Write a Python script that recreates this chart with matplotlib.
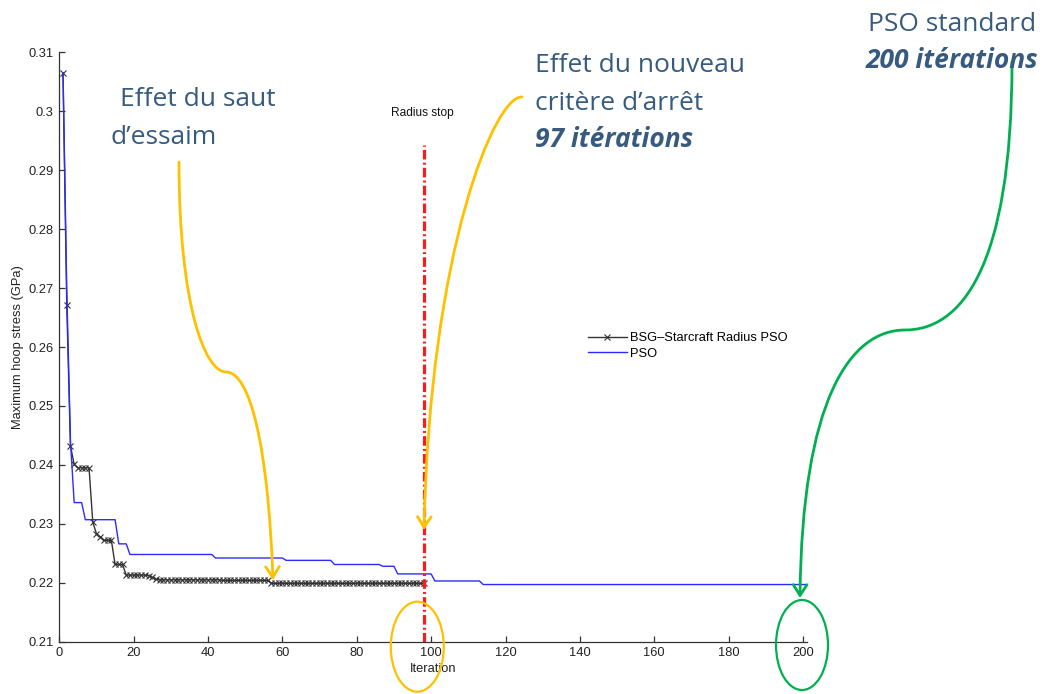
import numpy as np
import matplotlib
matplotlib.use("Agg")
import matplotlib.pyplot as plt
from matplotlib.path import Path
from matplotlib.patches import FancyArrowPatch, Ellipse
from matplotlib.transforms import Affine2D

# ---------------- data ----------------
# PSO (blue) : step values and how many iterations each lasts (iterations 1..201)
pso_values = [0.3065, 0.2700, 0.2440, 0.2336, 0.2307, 0.2266, 0.2248, 0.2242,
              0.2238, 0.2231, 0.2228, 0.2215, 0.2203, 0.2197]
pso_runs = [1, 1, 1, 3, 9, 3, 23, 19, 13, 13, 4, 10, 13, 88]

# BSG-Starcraft Radius PSO (black) : iterations 1..98
bsg_values = [0.3065, 0.2672, 0.2432, 0.2401, 0.2395, 0.2303, 0.2283, 0.2278,
              0.2272, 0.2231, 0.2213, 0.2212, 0.2209, 0.2206, 0.2205, 0.2204, 0.2199]
bsg_runs = [1, 1, 1, 1, 4, 1, 1, 1, 3, 3, 6, 1, 1, 1, 17, 13, 42]

stop_iteration = 98
stop_top = 0.2943

x_ticks = [0, 20, 40, 60, 80, 100, 120, 140, 160, 180, 200]
y_ticks = [0.21, 0.22, 0.23, 0.24, 0.25, 0.26, 0.27, 0.28, 0.29, 0.30, 0.31]
y_tick_labels = ["0.21", "0.22", "0.23", "0.24", "0.25", "0.26", "0.27",
                 "0.28", "0.29", "0.3", "0.31"]

legend_labels = ["BSG\u2013Starcraft Radius PSO", "PSO"]

pso_y = np.repeat(pso_values, pso_runs)
pso_x = np.arange(1, len(pso_y) + 1)
bsg_y = np.repeat(bsg_values, bsg_runs)
bsg_x = np.arange(1, len(bsg_y) + 1)

# ---------------- figure ----------------
W, H = 1049, 694
fig = plt.figure(figsize=(W / 100, H / 100), dpi=100)
fig.patch.set_facecolor("white")

ax_left, ax_right, ax_top, ax_bottom = 59.3, 806.7, 52.3, 641.7
ax = fig.add_axes([ax_left / W, 1 - ax_bottom / H,
                   (ax_right - ax_left) / W, (ax_bottom - ax_top) / H])

tick_font = dict(family="Liberation Sans", size=9.3)

ax.plot(bsg_x, bsg_y, color="#333333", lw=1.0, marker="x", ms=4.4, mew=0.8,
        label=legend_labels[0], zorder=2)
ax.plot(pso_x, pso_y, color="#2b2bff", lw=1.0, label=legend_labels[1], zorder=3)

ax.plot([stop_iteration, stop_iteration], [0.21, stop_top], color="#ff1a1a",
        lw=2.3, dashes=(3.0, 1.0, 0.6, 1.0), zorder=4)
ax.text(stop_iteration - 0.3, 0.2997, "Radius stop", ha="center", va="center",
        fontdict=dict(family="Liberation Sans", size=8.6), color="#111111")

ax.set_xlim(0, 201)
ax.set_ylim(0.21, 0.31)
ax.set_xticks(x_ticks)
ax.set_yticks(y_ticks)
ax.set_yticklabels(y_tick_labels)
for lab in ax.get_xticklabels() + ax.get_yticklabels():
    lab.set_family("Liberation Sans")
    lab.set_size(9.3)
    lab.set_color("#222222")

ax.spines["top"].set_visible(False)
ax.spines["right"].set_visible(False)
for s in ("left", "bottom"):
    ax.spines[s].set_color("#333333")
    ax.spines[s].set_linewidth(0.9)
ax.tick_params(direction="in", length=4, width=0.9, color="#333333", pad=4)

ax.set_xlabel("Iteration", fontdict=tick_font, color="#222222")
ax.xaxis.set_label_coords(0.5, -(663 - ax_bottom) / (ax_bottom - ax_top))
ax.xaxis.label.set_va("top")
ax.set_ylabel("Maximum hoop stress (GPa)", fontdict=tick_font, color="#222222")
ax.yaxis.set_label_coords(-(59.3 - 24) / (ax_right - ax_left), 0.5)

leg = ax.legend(loc="upper left", frameon=False, prop=dict(family="Liberation Sans", size=9.3),
                bbox_to_anchor=(588 / W, 1 - 332 / H), bbox_transform=fig.transFigure,
                borderpad=0, borderaxespad=0, handlelength=3.0, handletextpad=0.25,
                labelspacing=0.3)

# ---------------- annotations (pixel-based overlay) ----------------
PX = Affine2D().scale(1 / W, -1 / H).translate(0, 1) + fig.transFigure
text_col = "#375a7f"
yellow = "#ffc000"
green = "#00b050"
ann_font = "Open Sans"
fs = 19

def txt(x, y, s, bold=False):
    fig.text(x / W, 1 - y / H, s, ha="left", va="baseline", color=text_col,
             family=ann_font, size=fs,
             weight="bold" if bold else "normal",
             style="italic" if bold else "normal")

txt(120, 106, "Effet du saut")
txt(110, 144, "d\u2019essaim")
txt(535, 72, "Effet du nouveau")
txt(535, 110, "crit\u00e8re d\u2019arr\u00eat")
txt(535, 147, "97 it\u00e9rations", bold=True)
txt(868, 31, "PSO standard")
txt(866, 68, "200 it\u00e9rations", bold=True)

def curved_arrow(verts, color):
    codes = [Path.MOVETO] + [Path.CURVE4] * (len(verts) - 1)
    arr = FancyArrowPatch(path=Path(verts, codes), arrowstyle="->,head_length=0.55,head_width=0.35",
                          mutation_scale=14, color=color, lw=2.0, transform=PX,
                          shrinkA=0, shrinkB=0)
    fig.add_artist(arr)

curved_arrow([(179, 162), (179, 305), (205, 372), (226, 372),
              (250, 372), (268, 445), (273, 580)], yellow)
curved_arrow([(522, 97), (495, 95), (430, 250), (424, 530)], yellow)
curved_arrow([(1012, 62), (1012, 270), (960, 330), (905, 330),
              (850, 330), (802, 400), (800, 598)], green)

fig.add_artist(Ellipse((417.3, 646.7), 53, 90, transform=PX, fill=False,
                       edgecolor=yellow, lw=1.6))
fig.add_artist(Ellipse((802, 645), 52, 90, transform=PX, fill=False,
                       edgecolor=green, lw=1.6))

fig.savefig("out.png", dpi=100, facecolor="white")
